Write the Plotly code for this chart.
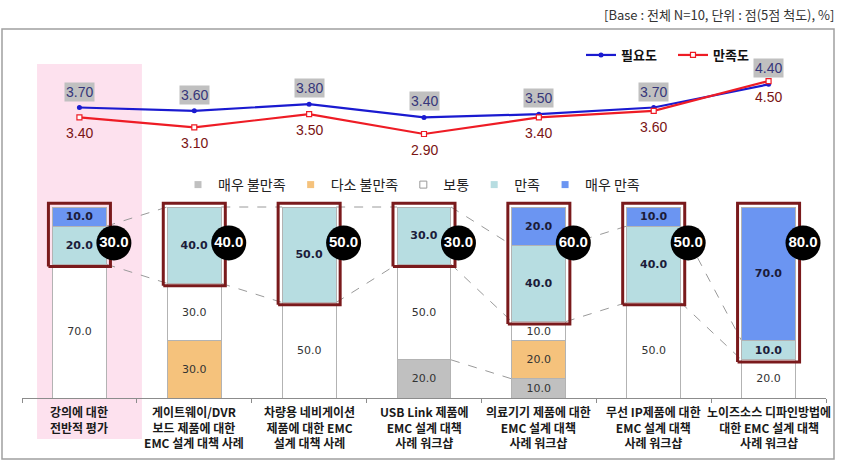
import plotly.graph_objects as go

categories = [
    "강의에 대한<br>전반적 평가",
    "게이트웨이/DVR<br>보드 제품에 대한<br>EMC 설계 대책 사례",
    "차량용 네비게이션<br>제품에 대한 EMC<br>설계 대책 사례",
    "USB Link 제품에<br>EMC 설계 대책<br>사례 워크샵",
    "의료기기 제품에 대한<br>EMC 설계 대책<br>사례 워크샵",
    "무선 IP제품에 대한<br>EMC 설계 대책<br>사례 워크샵",
    "노이즈소스 디파인방법에<br>대한 EMC 설계 대책<br>사례 워크샵",
]
need = [3.70, 3.60, 3.80, 3.40, 3.50, 3.70, 4.40]      # 필요도
satis = [3.40, 3.10, 3.50, 2.90, 3.40, 3.60, 4.50]     # 만족도

very_bad = [0, 0, 0, 20, 10, 0, 0]      # 매우 불만족
bad = [0, 30, 0, 0, 20, 0, 0]           # 다소 불만족
normal = [70, 30, 50, 50, 10, 50, 20]   # 보통
good = [20, 40, 50, 30, 40, 40, 10]     # 만족
very_good = [10, 0, 0, 0, 20, 10, 70]   # 매우 만족

W, H = 843, 461
ML, MR = 22, 17
PW = W - ML - MR


def px2x(px):
    return (px - ML) / PW


def py2y(py):
    return 1 - py / H


xs = list(range(len(categories)))
bw = 0.47
fig = go.Figure()

# stacked bars
series = [
    ("매우 불만족", very_bad, "#c0c0c0", False),
    ("다소 불만족", bad, "#f5c27c", False),
    ("보통", normal, "#ffffff", False),
    ("만족", good, "#b7dde1", True),
    ("매우 만족", very_good, "#6b95f2", True),
]
for name, vals, col, bold in series:
    txt = [("<b>%.1f</b>" % v if bold else "%.1f" % v) if v else "" for v in vals]
    fig.add_trace(go.Bar(
        x=xs, y=vals, width=bw, marker=dict(color=col, line=dict(color="#b3b3b3", width=1)),
        text=txt, textposition="inside", insidetextanchor="middle", textangle=0,
        constraintext="none", cliponaxis=False,
        textfont=dict(family="DejaVu Sans", size=11, color="#1c1c3a" if bold else "#333333"),
        showlegend=False, hoverinfo="skip"))
    fig.add_trace(go.Scatter(
        x=[None], y=[None], mode="markers", name=name, legend="legend2",
        marker=dict(symbol="square", size=7, color=col,
                    line=dict(color="#999999", width=1 if col == "#ffffff" else 0))))

fig.update_layout(barmode="stack")

# boxes around 만족 + 매우 만족
top_good = [a + b + c + d for a, b, c, d in zip(very_bad, bad, normal, good)]
bot_good = [a + b + c for a, b, c in zip(very_bad, bad, normal)]
totals = [g + v for g, v in zip(good, very_good)]
hb = 0.27
for i in xs:
    y0, y1 = bot_good[i] - 1.2, 102
    fig.add_trace(go.Scatter(
        x=[i - hb, i + hb, i + hb, i - hb, i - hb], y=[y0, y0, y1, y1, y0],
        mode="lines", line=dict(color="#7a1a1c", width=3), showlegend=False,
        hoverinfo="skip", cliponaxis=False))

# circles with satisfaction totals
fig.add_trace(go.Scatter(
    x=[i + 0.3 for i in xs], y=[81.2] * len(xs), mode="markers+text",
    marker=dict(size=35, color="#000000"),
    text=["<b>%.1f</b>" % t for t in totals], textposition="middle center",
    textfont=dict(family="Liberation Sans", size=15, color="#ffffff"),
    showlegend=False, hoverinfo="skip", cliponaxis=False))

# series lines between bars
shapes = []
for i in xs[:-1]:
    pairs = [(top_good[i], top_good[i + 1]), (bot_good[i], bot_good[i + 1])]
    if very_bad[i] and very_bad[i + 1]:
        pairs.append((very_bad[i], very_bad[i + 1]))
    for ya, yb in pairs:
        shapes.append(dict(type="line", xref="x", yref="y", layer="below",
                           x0=i + bw / 2, x1=i + 1 - bw / 2, y0=ya, y1=yb,
                           line=dict(color="#9a9a9a", width=1, dash="dash")))

# lines
fig.add_trace(go.Scatter(
    x=xs, y=need, yaxis="y2", mode="lines+markers", name="필요도",
    line=dict(color="#1a1ad0", width=2.2),
    marker=dict(symbol="circle", size=5, color="#1a1ad0"), hoverinfo="skip"))
fig.add_trace(go.Scatter(
    x=xs, y=satis, yaxis="y2", mode="lines+markers", name="만족도",
    line=dict(color="#ee1c25", width=2.2),
    marker=dict(symbol="square", size=5, color="#ffffff", line=dict(color="#ee1c25", width=1.2)),
    hoverinfo="skip"))

annotations = []
for i in xs:
    annotations.append(dict(x=i, y=need[i], xref="x", yref="y2", text="%.2f" % need[i],
                            showarrow=False, yshift=16, bgcolor="#c0c0c0", borderpad=1,
                            font=dict(family="Liberation Sans", size=14, color="#36367a")))
    annotations.append(dict(x=i, y=satis[i], xref="x", yref="y2", text="%.2f" % satis[i],
                            showarrow=False, yshift=-16,
                            font=dict(family="Liberation Sans", size=14, color="#7a1414")))
    annotations.append(dict(x=i, y=py2y(401), xref="x", yref="paper", text=categories[i],
                            showarrow=False, yanchor="top",
                            font=dict(family="Noto Sans CJK KR", size=12, weight="bold",
                                      color="#1a1a1a")))

annotations.append(dict(x=px2x(836), y=py2y(15), xref="paper", yref="paper",
                        xanchor="right", yanchor="middle", showarrow=False,
                        text="[Base : 전체 N=10, 단위 : 점(5점 척도), %]",
                        font=dict(family="Noto Sans CJK KR", size=13, color="#333333")))

# pink highlight and outer frame
shapes.insert(0, dict(type="rect", xref="x", yref="paper", layer="below",
                      x0=-0.369, x1=0.544, y0=py2y(439), y1=py2y(64),
                      fillcolor="#fde1ee", line=dict(width=0)))
shapes.append(dict(type="rect", xref="paper", yref="paper", layer="below",
                   x0=px2x(2), x1=px2x(834), y0=py2y(459), y1=py2y(29),
                   line=dict(color="#a0a0a0", width=1.5)))

# bar axis: 0..100 sits between 398px and 207px, with headroom for the boxes
ymax = 106
bar_top_px = 398 - ymax * (398 - 207) / 100

fig.update_layout(
    width=W, height=H, margin=dict(l=ML, r=MR, t=0, b=0),
    paper_bgcolor="white", plot_bgcolor="rgba(0,0,0,0)",
    shapes=shapes, annotations=annotations,
    xaxis=dict(range=[-0.5, 6.5], showgrid=False, zeroline=False, showline=True,
               linecolor="#8c8c8c", linewidth=1, tickvals=[k - 0.5 for k in range(8)],
               ticktext=[""] * 8, ticks="outside", ticklen=4, tickcolor="#8c8c8c"),
    yaxis=dict(range=[0, ymax], domain=[py2y(398), py2y(bar_top_px)], visible=False),
    yaxis2=dict(range=[1.661, 5.136], domain=[py2y(175), py2y(60)], visible=False),
    legend=dict(orientation="h", x=px2x(581), y=py2y(55), xanchor="left", yanchor="middle",
                font=dict(family="Noto Sans CJK KR", size=13, weight="bold", color="#111111"),
                entrywidth=47, traceorder="normal", bgcolor="rgba(0,0,0,0)"),
    legend2=dict(orientation="h", x=px2x(178), y=py2y(185), xanchor="left", yanchor="middle",
                 font=dict(family="Noto Sans CJK KR", size=14, color="#222222"),
                 traceorder="normal", bgcolor="rgba(0,0,0,0)", itemwidth=30),
    showlegend=True,
)

fig.write_html("out.html", config={"displayModeBar": False},
               post_script="document.body.style.margin='0px';")
